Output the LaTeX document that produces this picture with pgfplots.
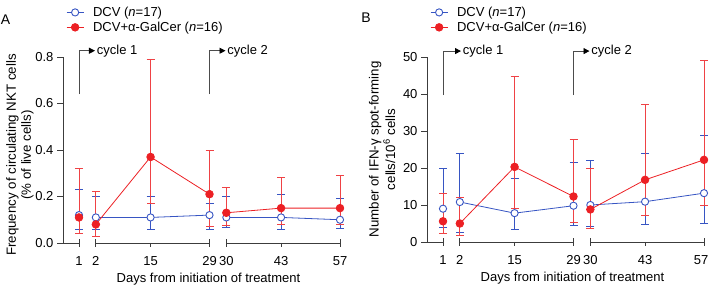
\documentclass[border=0pt]{standalone}
\usepackage{pgfplots}
\pgfplotsset{compat=1.18}
\usepackage{pgfplotstable}
\usepackage{fontspec}
\setmainfont{Liberation Sans}
\usetikzlibrary{arrows.meta}
\definecolor{dcvblue}{RGB}{55,85,195}
\definecolor{galred}{RGB}{236,32,36}
\definecolor{axgray}{RGB}{60,60,60}

% Panel A: frequency of circulating NKT cells (% of live cells)
\pgfplotstableread{
d  v    ep    em
1  0.12 0.11  0.06
2  0.11 0.09  0.05
15 0.11 0.09  0.05
29 0.12 0.05  0.06
30 0.11 0.09  0.045
43 0.11 0.10  0.05
57 0.10 0.09  0.037
}\Ablue
\pgfplotstableread{
d  v    ep    em
1  0.11 0.21  0.07
2  0.08 0.14  0.05
15 0.37 0.42  0.20
29 0.21 0.19  0.14
30 0.13 0.11  0.055
43 0.15 0.13  0.07
57 0.15 0.14  0.07
}\Ared
% Panel B: IFN-gamma spot-forming cells / 10^6 cells
\pgfplotstableread{
d  v    ep    em
1  9.0  10.9  5.0
2  10.8 13.2  8.3
15 7.8  9.4   4.5
29 9.8  11.8  5.3
30 10.0 12.0  5.8
43 10.9 13.1  6.2
57 13.2 15.6  8.2
}\Bblue
\pgfplotstableread{
d  v    ep    em
1  5.6  7.6   3.4
2  5.0  7.0   3.3
15 20.3 24.5  11.3
29 12.3 15.3  7.0
30 8.8  11.0  5.2
43 16.8 20.3  9.5
57 22.2 26.8  12.2
}\Bred

\tikzset{
  segax/.style={line width=0.8pt, axgray},
  cyc/.style={line width=0.8pt, black!70, -{Triangle[length=6pt,width=6pt,black]}},
}
\pgfplotsset{
  common/.style={
    scale only axis, width=277pt, anchor=south west,
    xmin=-2.8, xmax=57,
    x coord trafo/.code={\pgfmathparse{##1<1.5 ? ##1 : (##1<29.5 ? ##1+3 : ##1+6)}},
    axis x line=bottom, axis y line=left,
    x axis line style={draw=none},
    y axis line style={line width=0.8pt, axgray, -},
    xtick={1,2,15,29,30,43,57},
    xtick style={draw=none},
    xticklabel style={yshift=-4pt},
    ytick style={line width=0.8pt, axgray},
    tick align=outside, major tick length=6pt,
    clip=false,
    font=\fontsize{13}{15.6}\selectfont,
    /pgf/number format/assume math mode=true,
    xlabel={Days from initiation of treatment},
    xlabel style={xshift=7pt},
    ylabel style={align=center, font=\fontsize{13.3}{15}\selectfont},
    legend style={at={(0,1)}, anchor=south west, xshift=3pt, yshift=22pt,
      draw=none, fill=none, inner sep=0pt, cells={anchor=west},
      /tikz/every odd column/.append style={column sep=7pt},
      font=\fontsize{13}{15.6}\selectfont},
  },
  dcv/.style={color=dcvblue, line width=0.8pt, mark=*, mark size=3.6pt,
    mark options={fill=white, draw=dcvblue, line width=0.9pt},
    error bars/y dir=both, error bars/y explicit,
    error bars/error bar style={line width=0.8pt, dcvblue},
    error bars/error mark options={rotate=90, mark size=4pt, line width=0.8pt, dcvblue}},
  gal/.style={color=galred, line width=0.8pt, mark=*, mark size=3.8pt,
    mark options={fill=galred, draw=galred},
    error bars/y dir=both, error bars/y explicit,
    error bars/error bar style={line width=0.8pt, galred!85!white},
    error bars/error mark options={rotate=90, mark size=4pt, line width=0.8pt, galred!85!white}},
  seg1/.style={skip coords between index={1}{7}},
  seg2/.style={skip coords between index={0}{1}, skip coords between index={4}{7}},
  seg3/.style={skip coords between index={0}{4}},
}

\begin{document}
\begin{tikzpicture}
\useasboundingbox (0,0) rectangle (709pt,286pt);
% ---------------- Panel A ----------------
\begin{axis}[common, at={(63pt,43pt)}, height=186pt,
  ymin=0, ymax=0.8, ytick={0,0.2,0.4,0.6,0.8},
  xticklabels={1,2,15,29,30,43,57},
  yticklabel style={/pgf/number format/.cd, fixed, fixed zerofill, precision=1},
  ylabel style={yshift=-5pt, xshift=-5pt},
  ylabel={Frequency of circulating NKT cells\\(\% of live cells)}]
\addplot[dcv, seg1] table[x=d, y=v, y error plus=ep, y error minus=em] {\Ablue};
\addlegendentry{DCV (\textit{n}=17)}
\addplot[gal, seg1] table[x=d, y=v, y error plus=ep, y error minus=em] {\Ared};
\addlegendentry{DCV+α-GalCer (\textit{n}=16)}
\addplot[dcv, seg2, forget plot] table[x=d, y=v, y error plus=ep, y error minus=em] {\Ablue};
\addplot[gal, seg2, forget plot] table[x=d, y=v, y error plus=ep, y error minus=em] {\Ared};
\addplot[dcv, seg3, forget plot] table[x=d, y=v, y error plus=ep, y error minus=em] {\Ablue};
\addplot[gal, seg3, forget plot] table[x=d, y=v, y error plus=ep, y error minus=em] {\Ared};
% segmented x axis
\draw[segax] (rel axis cs:0,0) -- (axis cs:1,0);
\draw[segax] ([yshift=-4pt]axis cs:1,0) -- ([yshift=4pt]axis cs:1,0);
\draw[segax] (axis cs:2,0) -- (axis cs:29,0);
\draw[segax] ([yshift=-4pt]axis cs:2,0) -- ([yshift=4pt]axis cs:2,0);
\draw[segax] ([yshift=-4pt]axis cs:29,0) -- ([yshift=4pt]axis cs:29,0);
\draw[segax] (axis cs:15,0) -- ([yshift=-4pt]axis cs:15,0);
\draw[segax] (axis cs:30,0) -- (axis cs:57,0);
\draw[segax] ([yshift=-4pt]axis cs:30,0) -- ([yshift=4pt]axis cs:30,0);
\draw[segax] ([yshift=-4pt]axis cs:57,0) -- ([yshift=4pt]axis cs:57,0);
\draw[segax] (axis cs:43,0) -- ([yshift=-4pt]axis cs:43,0);
% cycle markers
\draw[cyc] (axis cs:1,0.64) |- ([xshift=16pt]axis cs:1,0.827) node[right, inner sep=1.5pt, text=black] {cycle 1};
\draw[cyc] (axis cs:29,0.64) |- ([xshift=16pt]axis cs:29,0.827) node[right, inner sep=1.5pt, text=black] {cycle 2};
\end{axis}
% ---------------- Panel B ----------------
\begin{axis}[common, at={(427pt,44pt)}, height=185pt,
  ymin=0, ymax=50, ytick={0,10,20,30,40,50},
  xticklabels={1,2,15,29,30,43,{\hspace{-6pt}57}},
  ylabel style={font=\fontsize{13.3}{16.5}\selectfont, yshift=1pt},
  ylabel={Number of IFN-γ spot-forming\\cells/10\textsuperscript{6} cells}]
\addplot[dcv, seg1] table[x=d, y=v, y error plus=ep, y error minus=em] {\Bblue};
\addlegendentry{DCV (\textit{n}=17)}
\addplot[gal, seg1] table[x=d, y=v, y error plus=ep, y error minus=em] {\Bred};
\addlegendentry{DCV+α-GalCer (\textit{n}=16)}
\addplot[dcv, seg2, forget plot] table[x=d, y=v, y error plus=ep, y error minus=em] {\Bblue};
\addplot[gal, seg2, forget plot] table[x=d, y=v, y error plus=ep, y error minus=em] {\Bred};
\addplot[dcv, seg3, forget plot] table[x=d, y=v, y error plus=ep, y error minus=em] {\Bblue};
\addplot[gal, seg3, forget plot] table[x=d, y=v, y error plus=ep, y error minus=em] {\Bred};
\draw[segax] (rel axis cs:0,0) -- (axis cs:1,0);
\draw[segax] ([yshift=-4pt]axis cs:1,0) -- ([yshift=4pt]axis cs:1,0);
\draw[segax] (axis cs:2,0) -- (axis cs:29,0);
\draw[segax] ([yshift=-4pt]axis cs:2,0) -- ([yshift=4pt]axis cs:2,0);
\draw[segax] ([yshift=-4pt]axis cs:29,0) -- ([yshift=4pt]axis cs:29,0);
\draw[segax] (axis cs:15,0) -- ([yshift=-4pt]axis cs:15,0);
\draw[segax] (axis cs:30,0) -- (axis cs:57,0);
\draw[segax] ([yshift=-4pt]axis cs:30,0) -- ([yshift=4pt]axis cs:30,0);
\draw[segax] ([yshift=-4pt]axis cs:57,0) -- ([yshift=4pt]axis cs:57,0);
\draw[segax] (axis cs:43,0) -- ([yshift=-4pt]axis cs:43,0);
\draw[cyc] (axis cs:1,39.7) |- ([xshift=18pt]axis cs:1,51.6) node[right, inner sep=1.5pt, text=black] {cycle 1};
\draw[cyc] (axis cs:29,39.7) |- ([xshift=16pt]axis cs:29,51.6) node[right, inner sep=1.5pt, text=black] {cycle 2};
\end{axis}
\node[font=\fontsize{14}{16}\selectfont, inner sep=0pt] at (5.5pt,266pt) {A};
\node[font=\fontsize{14}{16}\selectfont, inner sep=0pt] at (366pt,268pt) {B};
\end{tikzpicture}
\end{document}
